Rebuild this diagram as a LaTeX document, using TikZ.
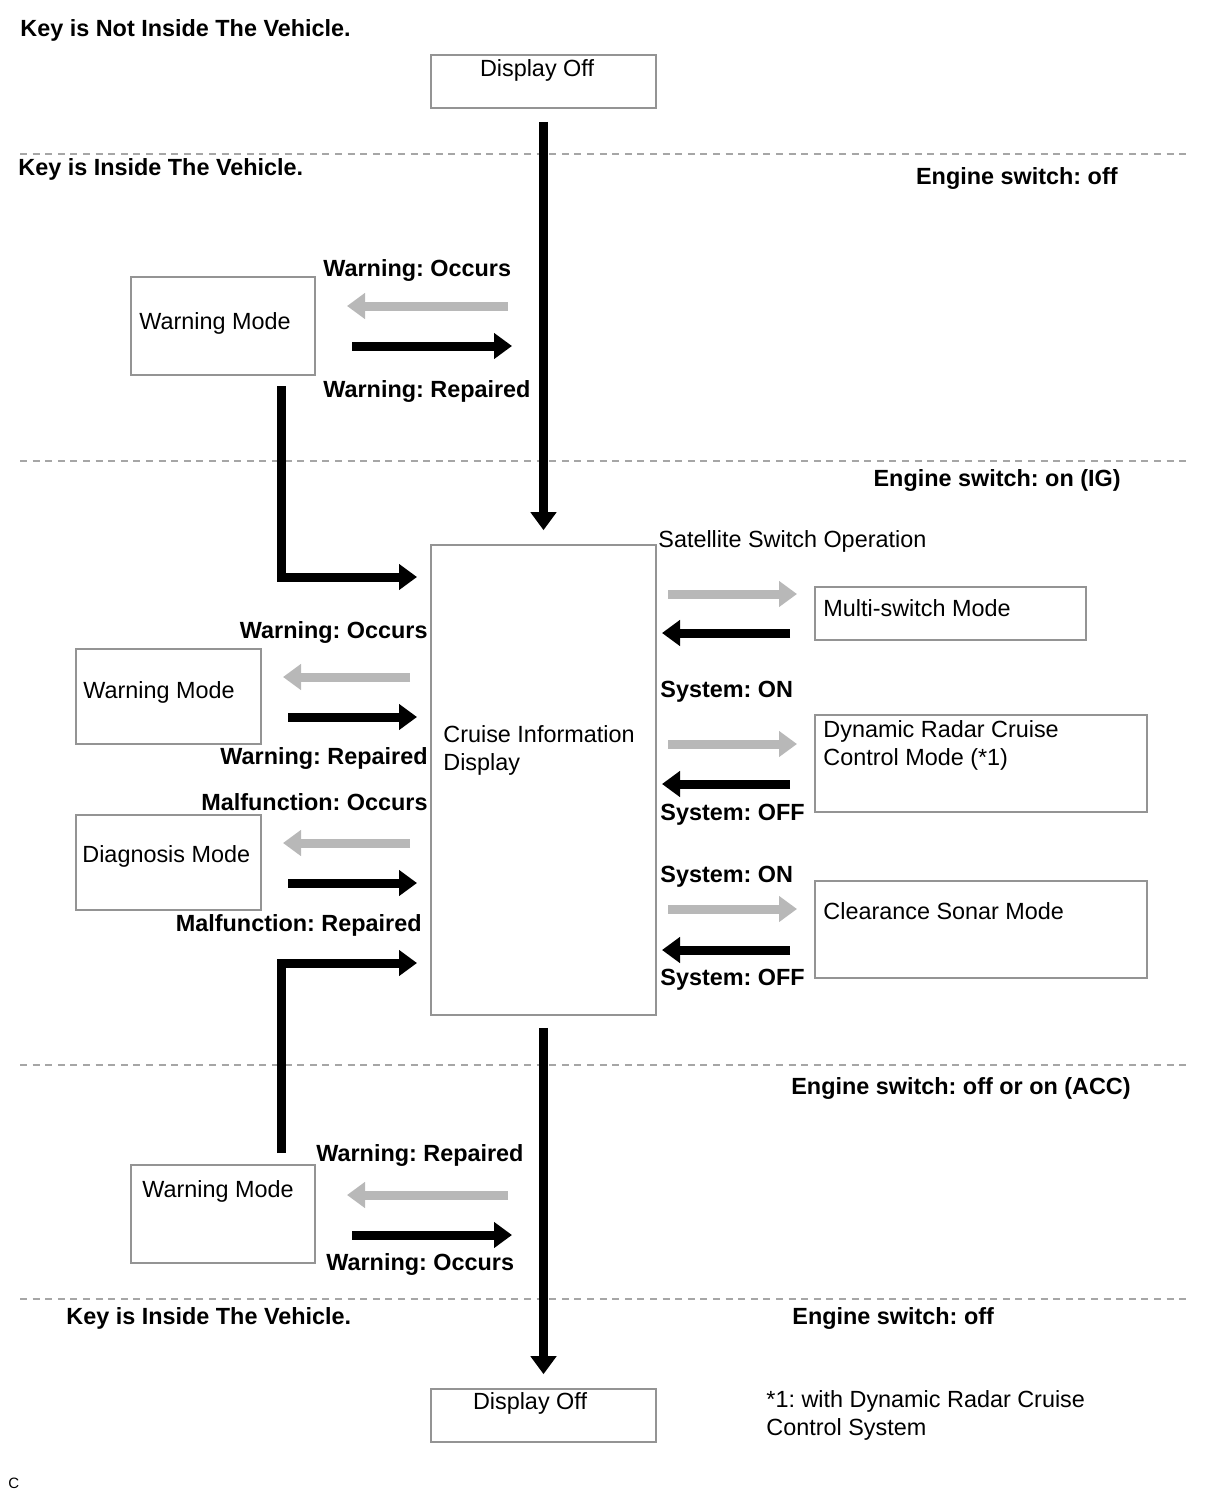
\documentclass[tikz,border=0pt]{standalone}
\usepackage{fontspec}
\setmainfont{Liberation Sans}
\usetikzlibrary{arrows.meta}
\frenchspacing
\begin{document}
\begin{tikzpicture}[x=0.5pt,y=-0.5pt,
  box/.style={draw=black!42,line width=0.8pt,inner sep=0pt,fill=none},
  txt/.style={inner sep=0pt,yshift=-1pt,font=\fontsize{11.7}{14}\selectfont\frenchspacing,align=left},
  btxt/.style={inner sep=0pt,yshift=-1pt,font=\fontsize{11.7}{14}\selectfont\bfseries\frenchspacing,align=left},
  divider/.style={draw=black!35,line width=0.75pt,dash pattern=on 3.5pt off 2.8pt},
  blk/.style={draw=black,line width=4.5pt,-{Triangle[length=9pt,width=12.5pt]},line join=miter},
  gry/.style={draw=black!28,line width=4.5pt,-{Triangle[length=9pt,width=12.5pt]}}
]
\useasboundingbox (0,0) rectangle (1210,1498);

% dividers
\foreach \yy/\nm in {154/da,461/db,1065/dc,1299/dd}{
  \coordinate (\nm l) at (20,\yy); \coordinate (\nm r) at (1190,\yy);
  \draw[divider] (\nm l) -- (\nm r);
}

% boxes
\node[box,minimum width=112.5pt,minimum height=26.5pt] (doff1) at (543.5,81.5) {};
\node[box,minimum width=92pt,minimum height=49pt] (wm1) at (223,326) {};
\node[box,minimum width=112.5pt,minimum height=235pt] (cid) at (543.5,780) {};
\node[box,minimum width=135.5pt,minimum height=26.5pt] (msm) at (950.5,613.5) {};
\node[box,minimum width=166pt,minimum height=48.5pt] (drc) at (981,763.5) {};
\node[box,minimum width=166pt,minimum height=48.5pt] (csm) at (981,929.5) {};
\node[box,minimum width=92.5pt,minimum height=47.5pt] (wm2) at (168.5,696.5) {};
\node[box,minimum width=92.5pt,minimum height=47.5pt] (dgm) at (168.5,862.5) {};
\node[box,minimum width=92pt,minimum height=49pt] (wm3) at (223,1214) {};
\node[box,minimum width=112.5pt,minimum height=26.5pt] (doff2) at (543.5,1415.5) {};

% box texts
\node[txt] (t1) at (537,68) {Display Off};
\node[txt,anchor=west] (t2) at (139,321) {Warning Mode};
\node[txt,anchor=west] (t3) at (443,748) {Cruise Information\\Display};
\node[txt,anchor=west] (t4) at (823,606) {Multi-switch Mode};
\node[txt,anchor=west] (t5) at (823,743) {Dynamic Radar Cruise\\Control Mode (*1)};
\node[txt,anchor=west] (t6) at (823,909) {Clearance Sonar Mode};
\node[txt,anchor=west] (t7) at (83,690) {Warning Mode};
\node[txt,anchor=west] (t8) at (82,854) {Diagnosis Mode};
\node[txt,anchor=west] (t9) at (142,1189) {Warning Mode};
\node[txt] (t10) at (530,1401) {Display Off};

% labels
\node[btxt,anchor=west] (l1) at (20,28) {Key is Not Inside The Vehicle.};
\node[btxt,anchor=west] (l2) at (18,167) {Key is Inside The Vehicle.};
\node[btxt,anchor=east] (l3) at (1118,177) {Engine switch: off};
\node[btxt,anchor=west] (l4) at (323,269) {Warning: Occurs};
\node[btxt,anchor=west] (l5) at (323,390) {Warning: Repaired};
\node[btxt,anchor=east] (l6) at (1121,478) {Engine switch: on (IG)};
\node[txt,anchor=west] (l7) at (658,539) {Satellite Switch Operation};
\node[btxt,anchor=west] (l8) at (660,690) {System: ON};
\node[btxt,anchor=west] (l9) at (660,813) {System: OFF};
\node[btxt,anchor=west] (l10) at (660,875) {System: ON};
\node[btxt,anchor=west] (l11) at (660,978) {System: OFF};
\node[btxt,anchor=east] (l12) at (428,630) {Warning: Occurs};
\node[btxt,anchor=east] (l13) at (428,756) {Warning: Repaired};
\node[btxt,anchor=east] (l14) at (428,800) {Malfunction: Occurs};
\node[btxt,anchor=east] (l15) at (422,923) {Malfunction: Repaired};
\node[btxt,anchor=east] (l16) at (1131,1086) {Engine switch: off or on (ACC)};
\node[btxt,anchor=west] (l17) at (316,1153) {Warning: Repaired};
\node[btxt,anchor=west] (l18) at (326,1262) {Warning: Occurs};
\node[btxt,anchor=west] (l19) at (66,1316) {Key is Inside The Vehicle.};
\node[btxt,anchor=west] (l20) at (792,1316) {Engine switch: off};
\node[txt,anchor=west] (l21) at (766,1413) {*1: with Dynamic Radar Cruise\\Control System};
\node[inner sep=0pt,font=\fontsize{7.5}{9}\selectfont,anchor=west] (l22) at (8,1483) {C};

% main vertical arrows
\draw[blk] ([yshift=-6.5pt]doff1.south) -- ([yshift=7pt]cid.north);
\draw[blk] ([yshift=-6pt]cid.south) -- ([yshift=7pt]doff2.north);

% top warning mode
\coordinate (a1s) at (508,306); \coordinate (a1e) at (347,306);
\coordinate (a2s) at (352,346); \coordinate (a2e) at (512,346);
\draw[gry] (a1s) -- (a1e);
\draw[blk] (a2s) -- (a2e);

% L arrows
\coordinate (L1s) at (281,386); \coordinate (L1e) at (417,577);
\draw[blk] (L1s) |- (L1e);
\coordinate (L2s) at (281,1153); \coordinate (L2e) at (417,963);
\draw[blk] (L2s) |- (L2e);

% right side
\foreach \yg/\yb/\n in {594/633/r1,744/784/r2,909/950/r3}{
  \coordinate (\n gs) at (668,\yg); \coordinate (\n ge) at (797,\yg);
  \coordinate (\n bs) at (790,\yb); \coordinate (\n be) at (662,\yb);
  \draw[gry] (\n gs) -- (\n ge);
  \draw[blk] (\n bs) -- (\n be);
}

% left side
\foreach \yg/\yb/\n in {677/717/q1,843/883/q2}{
  \coordinate (\n gs) at (410,\yg); \coordinate (\n ge) at (283,\yg);
  \coordinate (\n bs) at (288,\yb); \coordinate (\n be) at (417,\yb);
  \draw[gry] (\n gs) -- (\n ge);
  \draw[blk] (\n bs) -- (\n be);
}

% bottom warning mode
\coordinate (b1s) at (508,1195); \coordinate (b1e) at (347,1195);
\coordinate (b2s) at (352,1235); \coordinate (b2e) at (512,1235);
\draw[gry] (b1s) -- (b1e);
\draw[blk] (b2s) -- (b2e);
\end{tikzpicture}
\end{document}
